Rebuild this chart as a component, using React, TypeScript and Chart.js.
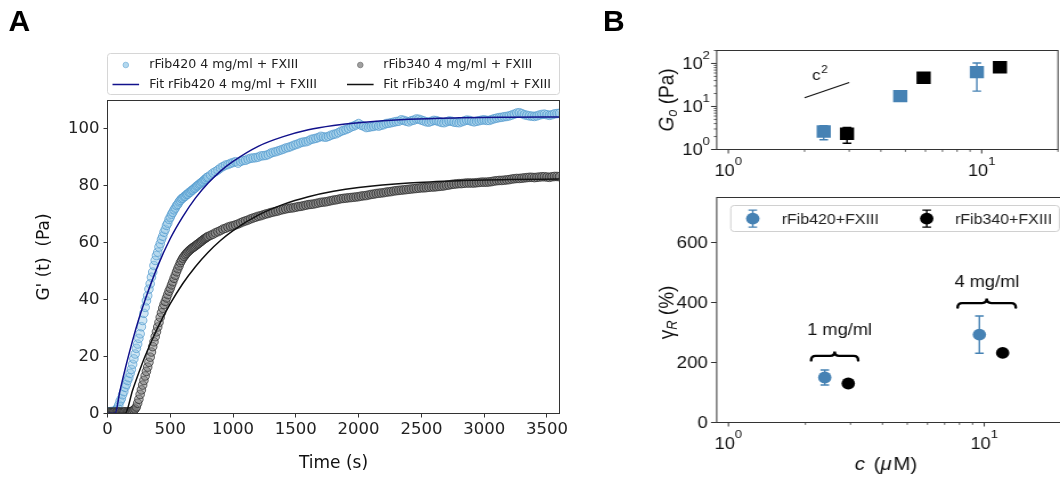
import React, { useEffect, useRef } from "react";
import { Chart, registerables } from "chart.js";

Chart.register(...registerables);

// ---------------- Panel A data ----------------
const timeS = [
  0, 10, 20, 30, 40, 50, 60, 70, 80, 90,
  100, 110, 120, 130, 140, 150, 160, 170, 180, 190,
  200, 210, 220, 230, 240, 250, 260, 270, 280, 290,
  300, 310, 320, 330, 340, 350, 360, 370, 380, 390,
  400, 410, 420, 430, 440, 450, 460, 470, 480, 490,
  500, 510, 520, 530, 540, 550, 560, 570, 580, 590,
  600, 610, 620, 630, 640, 650, 660, 670, 680, 690,
  700, 710, 720, 730, 740, 750, 760, 770, 780, 790,
  800, 820, 840, 860, 880, 900, 920, 940, 960, 980,
  1000, 1020, 1040, 1060, 1080, 1100, 1120, 1140, 1160, 1180,
  1200, 1220, 1240, 1260, 1280, 1300, 1320, 1340, 1360, 1380,
  1400, 1420, 1440, 1460, 1480, 1500, 1520, 1540, 1560, 1580,
  1600, 1620, 1640, 1660, 1680, 1700, 1720, 1740, 1760, 1780,
  1800, 1820, 1840, 1860, 1880, 1900, 1920, 1940, 1960, 1980,
  2000, 2020, 2040, 2060, 2080, 2100, 2120, 2140, 2160, 2180,
  2200, 2220, 2240, 2260, 2280, 2300, 2320, 2340, 2360, 2380,
  2400, 2420, 2440, 2460, 2480, 2500, 2520, 2540, 2560, 2580,
  2600, 2620, 2640, 2660, 2680, 2700, 2720, 2740, 2760, 2780,
  2800, 2820, 2840, 2860, 2880, 2900, 2920, 2940, 2960, 2980,
  3000, 3020, 3040, 3060, 3080, 3100, 3120, 3140, 3160, 3180,
  3200, 3220, 3240, 3260, 3280, 3300, 3320, 3340, 3360, 3380,
  3400, 3420, 3440, 3460, 3480, 3500, 3520, 3540, 3560, 3580,
  3600,
];
const gRFib420 = [
  0.5, 0.6, 0.5, 0.7, 0.6, 0.8, 0.9, 1.3, 2.0, 3.0,
  4.3, 5.2, 6.6, 7.7, 9.2, 10.2, 11.6, 12.6, 14.1, 15.5,
  17.3, 19.2, 20.9, 22.9, 24.4, 26.4, 28.0, 30.5, 32.7, 35.2,
  37.3, 39.6, 41.4, 43.7, 45.6, 47.9, 49.7, 52.0, 53.8, 55.5,
  56.7, 58.5, 59.7, 61.2, 62.3, 63.7, 64.7, 66.1, 66.9, 68.2,
  69.0, 70.0, 70.7, 71.6, 72.2, 73.1, 73.5, 74.4, 74.9, 75.5,
  75.7, 76.2, 76.4, 77.0, 77.1, 77.7, 77.8, 78.4, 78.6, 79.1,
  79.3, 79.9, 80.1, 80.6, 80.8, 81.3, 81.5, 82.1, 82.3, 82.9,
  83.1, 83.8, 84.5, 85.0, 85.6, 86.3, 86.8, 87.3, 87.5, 87.9,
  88.2, 88.5, 88.0, 88.6, 88.9, 89.0, 89.4, 89.7, 89.8, 89.9,
  90.1, 90.5, 90.6, 90.7, 91.0, 91.5, 91.8, 92.0, 92.3, 92.6,
  92.9, 93.3, 93.5, 93.8, 94.2, 94.5, 94.8, 95.2, 95.4, 95.5,
  95.8, 96.3, 96.5, 96.7, 97.0, 97.4, 97.2, 97.1, 97.4, 97.8,
  98.1, 98.3, 98.7, 99.2, 99.5, 99.8, 100.2, 100.7, 101.0, 101.4,
  101.9, 101.3, 101.0, 100.5, 100.6, 100.8, 100.9, 101.2, 101.0, 101.3,
  101.5, 101.9, 102.0, 102.2, 102.4, 102.6, 102.7, 103.2, 103.0, 102.7,
  102.5, 102.9, 103.1, 103.5, 103.4, 103.1, 102.8, 102.5, 102.4, 102.7,
  103.0, 102.9, 102.6, 102.3, 102.2, 102.5, 102.8, 102.7, 102.4, 102.3,
  102.2, 102.5, 102.8, 103.1, 103.0, 102.7, 102.5, 102.7, 102.9, 103.1,
  103.2, 103.0, 103.0, 103.3, 103.6, 103.8, 104.0, 104.1, 104.3, 104.4,
  104.6, 104.9, 105.2, 105.6, 105.7, 105.4, 105.0, 104.8, 104.6, 104.5,
  104.4, 104.6, 104.9, 105.1, 105.2, 105.0, 104.8, 105.0, 105.3, 105.4,
  105.5,
];
const gRFib340 = [
  0.4, 0.4, 0.5, 0.4, 0.4, 0.5, 0.5, 0.4, 0.5, 0.5,
  0.5, 0.4, 0.5, 0.5, 0.6, 0.5, 0.5, 0.6, 0.6, 0.7,
  0.9, 1.2, 1.6, 2.3, 3.6, 5.0, 6.7, 8.3, 10.0, 11.6,
  13.2, 14.8, 16.3, 18.0, 19.8, 21.6, 23.5, 25.2, 27.0, 28.7,
  30.4, 32.0, 33.8, 35.4, 37.0, 38.3, 39.4, 40.6, 41.8, 43.0,
  44.0, 45.2, 46.3, 47.5, 48.6, 49.8, 50.9, 51.9, 53.0, 53.8,
  54.6, 55.2, 55.8, 56.3, 56.8, 57.2, 57.6, 58.0, 58.3, 58.6,
  58.9, 59.3, 59.6, 59.9, 60.3, 60.6, 61.0, 61.3, 61.6, 61.9,
  62.2, 62.6, 63.0, 63.5, 63.9, 64.3, 64.8, 65.1, 65.5, 65.8,
  66.0, 66.3, 66.6, 67.0, 67.4, 67.7, 68.0, 68.4, 68.7, 69.0,
  69.3, 69.5, 69.8, 70.1, 70.3, 70.6, 70.8, 71.0, 71.2, 71.5,
  71.7, 71.9, 72.1, 72.2, 72.3, 72.5, 72.7, 72.8, 73.0, 73.2,
  73.4, 73.5, 73.6, 73.8, 74.0, 74.2, 74.3, 74.4, 74.6, 74.8,
  75.0, 75.1, 75.3, 75.5, 75.6, 75.7, 75.8, 75.9, 76.0, 76.1,
  76.2, 76.4, 76.5, 76.6, 76.8, 77.0, 77.1, 77.3, 77.4, 77.5,
  77.6, 77.8, 77.9, 78.0, 78.2, 78.3, 78.4, 78.5, 78.6, 78.7,
  78.8, 78.9, 79.0, 79.1, 79.2, 79.3, 79.3, 79.4, 79.5, 79.6,
  79.6, 79.7, 79.8, 79.9, 80.0, 80.2, 80.3, 80.5, 80.6, 80.7,
  80.8, 80.8, 80.9, 81.0, 81.0, 81.0, 81.0, 81.1, 81.2, 81.3,
  81.3, 81.3, 81.4, 81.5, 81.7, 81.8, 81.9, 81.9, 82.0, 82.1,
  82.2, 82.4, 82.5, 82.6, 82.6, 82.7, 82.8, 82.9, 83.0, 83.0,
  82.9, 83.0, 83.1, 83.2, 83.2, 83.1, 83.0, 83.2, 83.3, 83.3,
  83.2,
];
const fitTime420 = [0, 60, 100, 150, 200, 250, 300, 400, 500, 600, 700, 800, 900, 1000, 1200, 1400, 1600, 1800, 2000, 2400, 2800, 3200, 3600];
const fit420 = [0, 0, 8.1, 17.3, 25.7, 33.3, 40.0, 51.8, 61.5, 69.2, 75.7, 80.9, 85.2, 88.6, 93.9, 97.3, 99.7, 101.2, 102.2, 103.4, 103.9, 104.1, 104.2];
const fitTime340 = [0, 140, 200, 250, 300, 400, 500, 600, 700, 800, 900, 1000, 1200, 1400, 1600, 1800, 2000, 2400, 2800, 3200, 3600];
const fit340 = [0, 0, 8.2, 14.4, 20.2, 30.2, 38.6, 45.7, 51.6, 56.6, 60.8, 64.3, 69.7, 73.5, 76.2, 78.1, 79.4, 81.0, 81.8, 82.2, 82.4];
const timeTicks = [0, 500, 1000, 1500, 2000, 2500, 3000, 3500];
const gTicks = [0, 20, 40, 60, 80, 100];

// ---------------- Panel B data ----------------
const conc420 = [2.38, 4.77, 9.57];
const conc340 = [2.94, 5.9, 11.8];
const g0RFib420 = [2.62, 17.4, 62.8];
const g0RFib420Err = [0.94, 2.5, 40];
const g0RFib340 = [2.32, 46.5, 82];
const g0RFib340Err = [0.92, 6, 10];
const slopeConc = [2, 3];
const slopeG0 = [16, 36];
const concGamma420 = [2.38, 9.57];
const concGamma340 = [2.94, 11.8];
const gammaR420 = [150, 293];
const gammaR420Err = [25, 62];
const gammaR340 = [130, 232];
const gammaR340Err = [6, 8];
const logMajorTicks = [1, 10, 100];
const logMinorTicks = [2, 3, 4, 5, 6, 7, 8, 9, 20, 30, 40, 50, 60, 70, 80, 90, 200];
const gammaTicks = [0, 200, 400, 600];
const massLabels = ["1 mg/ml", "4 mg/ml"];

// ---------------- styling ----------------
const FONT_A = '"DejaVu Sans", sans-serif';
const FONT_B = '"Liberation Sans", Arial, sans-serif';
const STRETCH_B = 1.14;
const B_W = 428;
const BLUE = "#4682b4";

const pts = (xs: number[], ys: number[]) => xs.map((x, i) => ({ x, y: ys[i] }));

const framePlugin = {
  id: "frame",
  afterDatasetsDraw(chart: any) {
    const { ctx, chartArea: a } = chart;
    ctx.save();
    ctx.strokeStyle = "#333";
    ctx.lineWidth = 1;
    ctx.strokeRect(a.left, a.top, a.right - a.left, a.bottom - a.top);
    ctx.restore();
  },
};

const errorBarPlugin = {
  id: "errorBars",
  beforeDatasetsDraw(chart: any) {
    const { ctx, chartArea: a, scales } = chart;
    ctx.save();
    ctx.beginPath();
    ctx.rect(a.left, a.top, a.right - a.left, a.bottom - a.top);
    ctx.clip();
    chart.data.datasets.forEach((ds: any) => {
      if (!ds.errors) return;
      ctx.strokeStyle = ds.pointBackgroundColor;
      ctx.lineWidth = 1.4;
      ds.data.forEach((p: any, i: number) => {
        const e = ds.errors[i];
        const x = scales.x.getPixelForValue(p.x);
        const yLo = scales.y.getPixelForValue(p.y - e);
        const yHi = scales.y.getPixelForValue(p.y + e);
        ctx.beginPath();
        ctx.moveTo(x, yLo);
        ctx.lineTo(x, yHi);
        ctx.moveTo(x - 3.8, yLo);
        ctx.lineTo(x + 3.8, yLo);
        ctx.moveTo(x - 3.8, yHi);
        ctx.lineTo(x + 3.8, yHi);
        ctx.stroke();
      });
    });
    ctx.restore();
  },
};

const legendAPlugin = {
  id: "legendA",
  afterDraw(chart: any) {
    const ctx = chart.ctx;
    ctx.save();
    ctx.beginPath();
    ctx.roundRect(107.5, 53.5, 452, 41, 3);
    ctx.fillStyle = "#fff";
    ctx.fill();
    ctx.strokeStyle = "#d6d6d6";
    ctx.lineWidth = 1;
    ctx.stroke();
    const colX = [125.8, 360.3];
    const textX = [149.3, 383.3];
    const rowY = [65, 84.5];
    ctx.font = `12.6px ${FONT_A}`;
    ctx.textBaseline = "middle";
    ctx.textAlign = "left";
    chart.data.datasets.forEach((d: any) => {
      const { col, row } = d.legendSlot;
      const cx = colX[col];
      const cy = rowY[row];
      if (d.type === "line") {
        ctx.strokeStyle = d.borderColor;
        ctx.lineWidth = 1.5;
        ctx.beginPath();
        ctx.moveTo(cx - 13.3, cy);
        ctx.lineTo(cx + 13.3, cy);
        ctx.stroke();
      } else {
        ctx.beginPath();
        ctx.arc(cx, cy, 2.8, 0, Math.PI * 2);
        ctx.fillStyle = d.legendFill;
        ctx.fill();
        ctx.strokeStyle = d.legendEdge;
        ctx.lineWidth = 0.8;
        ctx.stroke();
      }
      ctx.fillStyle = "#222";
      ctx.fillText(d.label, textX[col], cy);
    });
    ctx.restore();
  },
};

// ---------- helpers for panel B ----------
type Seg = { t: string; f: string; dy?: number; gap?: number };
function segWidth(ctx: any, segs: Seg[]) {
  let w = 0;
  segs.forEach((s) => {
    ctx.font = s.f;
    w += ctx.measureText(s.t).width + (s.gap || 0);
  });
  return w;
}
function drawSegs(ctx: any, segs: Seg[], x: number, y: number) {
  let cx = x;
  segs.forEach((s) => {
    ctx.font = s.f;
    ctx.fillText(s.t, cx, y + (s.dy || 0));
    cx += ctx.measureText(s.t).width + (s.gap || 0);
  });
}
function drawRotated(ctx: any, segs: Seg[], x: number, y: number) {
  ctx.save();
  ctx.translate(x, y);
  ctx.rotate(-Math.PI / 2);
  const w = segWidth(ctx, segs);
  drawSegs(ctx, segs, -w / 2, 0);
  ctx.restore();
}
function drawPow10(ctx: any, exp: number, x: number, baseY: number, align: string) {
  ctx.font = `16px ${FONT_B}`;
  const wb = ctx.measureText("10").width;
  ctx.font = `11.5px ${FONT_B}`;
  const we = ctx.measureText(String(exp)).width;
  const x0 = align === "center" ? x - (wb + we) / 2 : x - (wb + we);
  ctx.font = `16px ${FONT_B}`;
  ctx.fillText("10", x0, baseY);
  ctx.font = `11.5px ${FONT_B}`;
  ctx.fillText(String(exp), x0 + wb, baseY - 10.5);
}
function tickLine(ctx: any, x1: number, y1: number, x2: number, y2: number, lw: number) {
  ctx.lineWidth = lw;
  ctx.beginPath();
  ctx.moveTo(x1, y1);
  ctx.lineTo(x2, y2);
  ctx.stroke();
}
function drawLogX(ctx: any, xs: any, bottom: number) {
  const inRange = (v: number) => v >= xs.min && v <= xs.max;
  logMajorTicks.filter(inRange).forEach((v) => {
    const px = xs.getPixelForValue(v);
    tickLine(ctx, px, bottom, px, bottom + 4, 1);
    drawPow10(ctx, Math.round(Math.log10(v)), px, bottom + 26, "center");
  });
  logMinorTicks.filter(inRange).forEach((v) => {
    const px = xs.getPixelForValue(v);
    tickLine(ctx, px, bottom, px, bottom + 2.4, 0.8);
  });
}
function drawBrace(ctx: any, x1: number, x2: number, y: number) {
  const dx = 4;
  const dy = 4.5;
  const xm = (x1 + x2) / 2;
  ctx.beginPath();
  ctx.moveTo(x1, y + dy);
  ctx.quadraticCurveTo(x1, y, x1 + dx, y);
  ctx.lineTo(xm - dx, y);
  ctx.quadraticCurveTo(xm, y, xm, y - dy);
  ctx.quadraticCurveTo(xm, y, xm + dx, y);
  ctx.lineTo(x2 - dx, y);
  ctx.quadraticCurveTo(x2, y, x2, y + dy);
  ctx.stroke();
}

const bTopAxesPlugin = {
  id: "bTopAxes",
  afterDraw(chart: any) {
    const { ctx, chartArea: a, scales } = chart;
    const xs = scales.x;
    const ys = scales.y;
    ctx.save();
    ctx.fillStyle = "#111";
    ctx.strokeStyle = "#333";
    ctx.textAlign = "left";
    ctx.textBaseline = "alphabetic";
    drawLogX(ctx, xs, a.bottom);
    const inRange = (v: number) => v >= ys.min && v <= ys.max;
    logMajorTicks.filter(inRange).forEach((v) => {
      const py = ys.getPixelForValue(v);
      tickLine(ctx, a.left - 5, py, a.left, py, 1);
      drawPow10(ctx, Math.round(Math.log10(v)), 114, py + 5.8, "right");
    });
    logMinorTicks.filter(inRange).forEach((v) => {
      const py = ys.getPixelForValue(v);
      tickLine(ctx, a.left - 2.5, py, a.left, py, 0.8);
    });
    drawRotated(
      ctx,
      [
        { t: "G", f: `italic 19px ${FONT_B}` },
        { t: "o", f: `italic 13px ${FONT_B}`, dy: 3.5 },
        { t: " (Pa)", f: `19px ${FONT_B}` },
      ],
      81.6,
      100
    );
    // c^2 slope annotation
    const cx = xs.getPixelForValue(2.14);
    const cy = ys.getPixelForValue(42.3);
    ctx.font = `15px ${FONT_B}`;
    ctx.fillText("c", cx, cy);
    const w = ctx.measureText("c").width;
    ctx.font = `10.5px ${FONT_B}`;
    ctx.fillText("2", cx + w + 0.5, cy - 6.5);
    ctx.restore();
  },
};

const bBotAxesPlugin = {
  id: "bBotAxes",
  afterDraw(chart: any) {
    const { ctx, chartArea: a, scales } = chart;
    const xs = scales.x;
    const ys = scales.y;
    ctx.save();
    ctx.fillStyle = "#111";
    ctx.strokeStyle = "#333";
    ctx.textAlign = "left";
    ctx.textBaseline = "alphabetic";
    drawLogX(ctx, xs, a.bottom);
    gammaTicks.forEach((v) => {
      const py = ys.getPixelForValue(v);
      tickLine(ctx, a.left - 5, py, a.left, py, 1);
      ctx.font = `16.3px ${FONT_B}`;
      const t = String(v);
      ctx.fillText(t, 112 - ctx.measureText(t).width, py + 5.8);
    });
    drawRotated(
      ctx,
      [
        { t: "γ", f: `19px ${FONT_B}` },
        { t: "R", f: `italic 13px ${FONT_B}`, dy: 3.5 },
        { t: " (%)", f: `19px ${FONT_B}` },
      ],
      81.6,
      122.5
    );
    const xt: Seg[] = [
      { t: "c", f: `italic 18px ${FONT_B}`, gap: 2.5 },
      { t: " (", f: `18px ${FONT_B}` },
      { t: "μ", f: `italic 18px ${FONT_B}`, gap: 1.5 },
      { t: "M)", f: `18px ${FONT_B}` },
    ];
    const xw = segWidth(ctx, xt);
    drawSegs(ctx, xt, 268.4 - xw / 2, 280);

    // braces with concentration labels
    const braces = [
      { x1: 2.105, x2: 3.215, y: 222, lx: 2.72, ly: 293 },
      { x1: 7.87, x2: 13.28, y: 398, lx: 10.24, ly: 452 },
    ];
    ctx.strokeStyle = "#000";
    ctx.lineWidth = 2.4;
    ctx.lineCap = "round";
    braces.forEach((b, i) => {
      drawBrace(ctx, xs.getPixelForValue(b.x1), xs.getPixelForValue(b.x2), ys.getPixelForValue(b.y));
      ctx.font = `16px ${FONT_B}`;
      ctx.textAlign = "center";
      ctx.fillStyle = "#111";
      ctx.fillText(massLabels[i], xs.getPixelForValue(b.lx), ys.getPixelForValue(b.ly));
    });
    ctx.textAlign = "left";
    ctx.lineCap = "butt";

    // legend
    ctx.beginPath();
    ctx.roundRect(132.2, 15.5, 288.2, 26, 3);
    ctx.fillStyle = "#fff";
    ctx.fill();
    ctx.strokeStyle = "#d0d0d0";
    ctx.lineWidth = 1;
    ctx.stroke();
    const items = [
      { mx: 151.5, tx: 176.9 },
      { mx: 304.1, tx: 328.9 },
    ];
    const cyL = 28.6;
    chart.data.datasets.forEach((d: any, i: number) => {
      const it = items[i];
      const col = d.pointBackgroundColor;
      ctx.strokeStyle = col;
      ctx.lineWidth = 1.4;
      ctx.beginPath();
      ctx.moveTo(it.mx, cyL - 8.5);
      ctx.lineTo(it.mx, cyL + 8.5);
      ctx.moveTo(it.mx - 3.8, cyL - 8.5);
      ctx.lineTo(it.mx + 3.8, cyL - 8.5);
      ctx.moveTo(it.mx - 3.8, cyL + 8.5);
      ctx.lineTo(it.mx + 3.8, cyL + 8.5);
      ctx.stroke();
      ctx.beginPath();
      ctx.arc(it.mx, cyL, 5.9, 0, Math.PI * 2);
      ctx.fillStyle = col;
      ctx.fill();
      ctx.font = `14px ${FONT_B}`;
      ctx.fillStyle = "#222";
      ctx.fillText(d.label, it.tx, cyL + 5);
    });
    ctx.restore();
  },
};

const hiddenAxis = (extra: any) => ({
  ticks: { display: false },
  grid: { display: false },
  border: { display: false },
  ...extra,
});

export default function App() {
  const aRef = useRef<HTMLCanvasElement>(null);
  const btRef = useRef<HTMLCanvasElement>(null);
  const bbRef = useRef<HTMLCanvasElement>(null);

  useEffect(() => {
    const tickFontA = { family: FONT_A, size: 16.5 };
    const gridA = { drawOnChartArea: false, drawTicks: true, tickLength: 4, tickColor: "#333", tickWidth: 1 };

    const chartA = new Chart(aRef.current as HTMLCanvasElement, {
      type: "scatter",
      data: {
        datasets: [
          {
            type: "line",
            label: "Fit rFib420 4 mg/ml + FXIII",
            data: pts(fitTime420, fit420),
            borderColor: "#12128c",
            borderWidth: 1.5,
            pointRadius: 0,
            cubicInterpolationMode: "monotone",
            order: 0,
            legendSlot: { col: 0, row: 1 },
          },
          {
            type: "line",
            label: "Fit rFib340 4 mg/ml + FXIII",
            data: pts(fitTime340, fit340),
            borderColor: "#111",
            borderWidth: 1.5,
            pointRadius: 0,
            cubicInterpolationMode: "monotone",
            order: 1,
            legendSlot: { col: 1, row: 1 },
          },
          {
            type: "scatter",
            label: "rFib420 4 mg/ml + FXIII",
            data: pts(timeS, gRFib420),
            pointRadius: 4.3,
            pointBackgroundColor: "rgba(140,195,228,0.4)",
            pointBorderColor: "rgba(80,152,205,0.7)",
            pointBorderWidth: 1,
            order: 3,
            legendSlot: { col: 0, row: 0 },
            legendFill: "#b4d8ee",
            legendEdge: "#7fb6dc",
          },
          {
            type: "scatter",
            label: "rFib340 4 mg/ml + FXIII",
            data: pts(timeS, gRFib340),
            pointRadius: 4.3,
            pointBackgroundColor: "rgba(115,115,115,0.45)",
            pointBorderColor: "rgba(40,40,40,0.7)",
            pointBorderWidth: 1,
            order: 2,
            legendSlot: { col: 1, row: 0 },
            legendFill: "#a0a0a0",
            legendEdge: "#7a7a7a",
          },
        ] as any,
      },
      options: {
        responsive: false,
        animation: false,
        events: [],
        layout: { padding: { top: 100.5, right: 20.5, left: 0, bottom: 0 } },
        plugins: { legend: { display: false }, tooltip: { enabled: false } },
        scales: {
          x: {
            type: "linear",
            min: 0,
            max: 3600,
            afterFit: (s: any) => {
              s.height = 65.5;
            },
            afterBuildTicks: (s: any) => {
              s.ticks = timeTicks.map((v) => ({ value: v }));
            },
            ticks: { color: "#222", font: tickFontA, padding: 2, maxRotation: 0, autoSkip: false, callback: (v: any) => String(v) },
            grid: gridA,
            border: { display: false },
            title: { display: true, text: "Time (s)", color: "#111", font: { family: FONT_A, size: 17 }, padding: { top: 0, bottom: 5.5 } },
          },
          y: {
            type: "linear",
            min: 0,
            max: 110,
            afterFit: (s: any) => {
              s.width = 107.5;
            },
            afterBuildTicks: (s: any) => {
              s.ticks = gTicks.map((v) => ({ value: v }));
            },
            ticks: { color: "#222", font: tickFontA, padding: 4, autoSkip: false, callback: (v: any) => String(v) },
            grid: gridA,
            border: { display: false },
            title: { display: true, text: "G' (t)  (Pa)", color: "#111", font: { family: FONT_A, size: 17 }, padding: { top: 34.1, bottom: 0 } },
          },
        },
      } as any,
      plugins: [framePlugin, legendAPlugin],
    });

    const chartBTop = new Chart(btRef.current as HTMLCanvasElement, {
      type: "scatter",
      data: {
        datasets: [
          {
            type: "line",
            label: "c2",
            data: pts(slopeConc, slopeG0),
            borderColor: "#111",
            borderWidth: 1.2,
            pointRadius: 0,
            order: 0,
          },
          {
            label: "rFib340+FXIII",
            data: pts(conc340, g0RFib340),
            pointStyle: "rect",
            pointRadius: 8.8,
            pointBackgroundColor: "#000",
            pointBorderWidth: 0,
            errors: g0RFib340Err,
            order: 1,
          },
          {
            label: "rFib420+FXIII",
            data: pts(conc420, g0RFib420),
            pointStyle: "rect",
            pointRadius: 8.8,
            pointBackgroundColor: BLUE,
            pointBorderWidth: 0,
            errors: g0RFib420Err,
            order: 2,
          },
        ] as any,
      },
      options: {
        responsive: false,
        animation: false,
        events: [],
        layout: { padding: { top: 50.5, right: 0.9, left: 0, bottom: 0 } },
        plugins: { legend: { display: false }, tooltip: { enabled: false } },
        scales: {
          x: hiddenAxis({
            type: "logarithmic",
            min: 0.9,
            max: 20,
            afterFit: (s: any) => {
              s.height = 40.5;
            },
          }),
          y: hiddenAxis({
            type: "logarithmic",
            min: 1,
            max: 200,
            afterFit: (s: any) => {
              s.width = 119.9;
            },
          }),
        },
      } as any,
      plugins: [errorBarPlugin, framePlugin, bTopAxesPlugin],
    });

    const chartBBot = new Chart(bbRef.current as HTMLCanvasElement, {
      type: "scatter",
      data: {
        datasets: [
          {
            label: "rFib420+FXIII",
            data: pts(concGamma420, gammaR420),
            pointRadius: 5.9,
            pointBackgroundColor: BLUE,
            pointBorderWidth: 0,
            errors: gammaR420Err,
            order: 2,
          },
          {
            label: "rFib340+FXIII",
            data: pts(concGamma340, gammaR340),
            pointRadius: 5.9,
            pointBackgroundColor: "#000",
            pointBorderWidth: 0,
            errors: gammaR340Err,
            order: 1,
          },
        ] as any,
      },
      options: {
        responsive: false,
        animation: false,
        events: [],
        layout: { padding: { top: 7.5, right: 0.9, left: 0, bottom: 0 } },
        plugins: { legend: { display: false }, tooltip: { enabled: false } },
        scales: {
          x: hiddenAxis({
            type: "logarithmic",
            min: 0.9,
            max: 20,
            afterFit: (s: any) => {
              s.height = 56.5;
            },
          }),
          y: hiddenAxis({
            type: "linear",
            min: 0,
            max: 750,
            afterFit: (s: any) => {
              s.width = 119.9;
            },
          }),
        },
      } as any,
      plugins: [errorBarPlugin, framePlugin, bBotAxesPlugin],
    });

    return () => {
      chartA.destroy();
      chartBTop.destroy();
      chartBBot.destroy();
    };
  }, []);

  const bCssW = `${B_W * STRETCH_B}px`;
  const labelStyle: React.CSSProperties = {
    position: "absolute",
    top: 6.3,
    font: `bold 30px ${FONT_B}`,
    lineHeight: "30px",
    color: "#000",
  };

  return (
    <div
      style={{
        position: "fixed",
        left: 0,
        top: 0,
        width: 1060,
        height: 479,
        overflow: "hidden",
        background: "#fff",
      }}
    >
      <canvas ref={aRef} width={580} height={479} style={{ position: "absolute", left: 0, top: 0, width: "580px", height: "479px" }} />
      <canvas ref={btRef} width={B_W} height={190} style={{ position: "absolute", left: 580, top: 0, width: bCssW, height: "190px" }} />
      <canvas ref={bbRef} width={B_W} height={289} style={{ position: "absolute", left: 580, top: 190, width: bCssW, height: "289px" }} />
      <div style={{ ...labelStyle, left: 8.5 }}>A</div>
      <div style={{ ...labelStyle, left: 603 }}>B</div>
    </div>
  );
}
